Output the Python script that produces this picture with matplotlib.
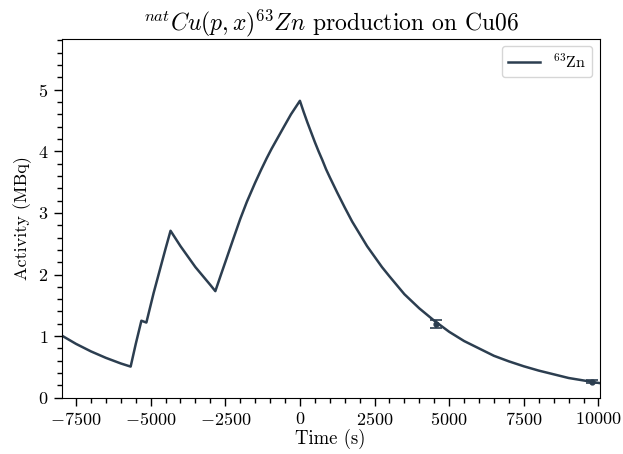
import matplotlib
matplotlib.use("Agg")
import matplotlib.pyplot as plt
from matplotlib.ticker import MultipleLocator

# activity curve (time in s, activity in MBq)
time_s = [-7980, -7500, -7000, -6500, -6000, -5670,
          -5500, -5310, -5143,
          -4900, -4667, -4500, -4333,
          -4000, -3500, -3000, -2833,
          -2650, -2500, -2223, -2000, -1777, -1500, -1300, -1110, -950,
          -800, -557, -300, -150, 0,
          125, 250, 375, 500, 625, 750, 875, 1000, 1250, 1500, 1750, 2000,
          2250, 2500, 2750, 3000, 3500, 4000, 4500,
          5000, 5500, 6000, 6500, 7000, 7500, 8000, 8500, 9000, 9500,
          10000, 10150]
activity = [1.01, 0.874, 0.752, 0.647, 0.556, 0.505,
            0.87, 1.25, 1.22,
            1.70, 2.12, 2.42, 2.71,
            2.46, 2.12, 1.83, 1.73,
            1.99, 2.20, 2.59, 2.90, 3.18, 3.49, 3.70, 3.89, 4.04,
            4.17, 4.38, 4.60, 4.71, 4.82,
            4.64, 4.47, 4.31, 4.15, 4.00, 3.86, 3.71, 3.58, 3.33, 3.09, 2.86,
            2.66, 2.46, 2.29, 2.12, 1.97, 1.68, 1.45, 1.25,
            1.07, 0.92, 0.80, 0.68, 0.59, 0.51, 0.44, 0.38, 0.32, 0.28,
            0.24, 0.23]

# measured points
meas_t = [4550, 9800]
meas_a = [1.19, 0.26]
meas_err = [0.065, 0.02]

plt.rcParams['font.family'] = 'serif'
plt.rcParams['font.serif'] = ['cmr10']
plt.rcParams['mathtext.fontset'] = 'cm'
plt.rcParams['axes.formatter.use_mathtext'] = True
plt.rcParams['axes.unicode_minus'] = True

color = '#2c3e50'

fig = plt.figure(figsize=(6.23, 4.54), dpi=100)
ax = fig.add_axes([0.099, 0.124, 0.8635, 0.791])

ax.plot(time_s, activity, color=color, lw=1.8, label=r'$^{63}$Zn')
ax.errorbar(meas_t, meas_a, yerr=meas_err, fmt='o', ms=3.5, color=color,
            capsize=4, elinewidth=1.2, capthick=1.2)

ax.set_xlim(-7980, 10040)
ax.set_ylim(0, 5.83)
ax.xaxis.set_major_locator(MultipleLocator(2500))
ax.xaxis.set_minor_locator(MultipleLocator(500))
ax.yaxis.set_major_locator(MultipleLocator(1))
ax.yaxis.set_minor_locator(MultipleLocator(0.2))
ax.tick_params(axis='both', which='major', labelsize=13, length=6, width=1)
ax.tick_params(axis='both', which='minor', length=3.5, width=1)

ax.set_xlabel('Time (s)', fontsize=13.5, labelpad=1)
ax.set_ylabel('Activity (MBq)', fontsize=13, labelpad=4)
ax.set_title(r'$^{nat}Cu(p,x)^{63}Zn$ production on Cu06', fontsize=17, pad=5)

ax.legend(loc='upper right', fontsize=11.5, handlelength=2.0,
          borderaxespad=0.45)

fig.savefig('out.png', dpi=100)
